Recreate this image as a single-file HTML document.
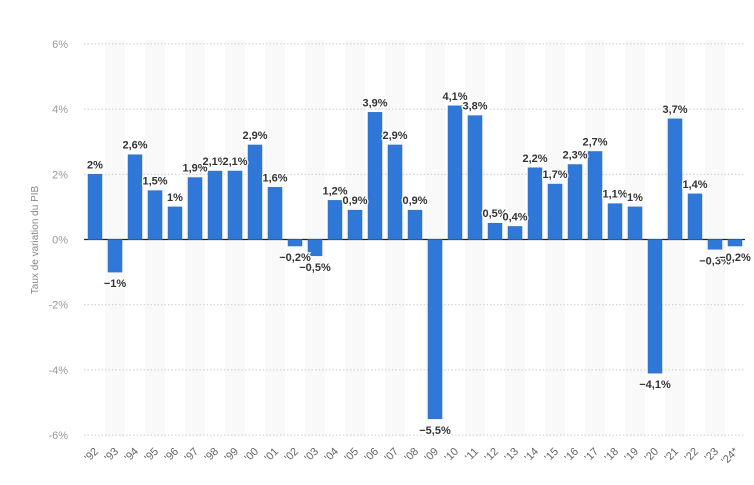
<!DOCTYPE html>
<html><head><meta charset="utf-8"><style>
body{margin:0;background:#fff;}
svg{display:block;font-family:"Liberation Sans",sans-serif;}
</style></head><body>
<svg id="chart" width="754" height="485" viewBox="0 0 754 485">
<g id="stripes"></g><g id="grid"></g><g id="bars"></g><g id="labels"></g><g id="xt"></g>
<text transform="translate(38,240) rotate(-90)" text-anchor="middle" font-size="10" fill="#888">Taux de variation du PIB</text>
</svg>
<script>
const categories=["'92","'93","'94","'95","'96","'97","'98","'99","'00","'01","'02","'03","'04","'05","'06","'07","'08","'09","'10","'11","'12","'13","'14","'15","'16","'17","'18","'19","'20","'21","'22","'23","'24*"];
const values=[2,-1,2.6,1.5,1,1.9,2.1,2.1,2.9,1.6,-0.2,-0.5,1.2,0.9,3.9,2.9,0.9,-5.5,4.1,3.8,0.5,0.4,2.2,1.7,2.3,2.7,1.1,1,-4.1,3.7,1.4,-0.3,-0.2];
const yTicks=[6,4,2,0,-2,-4,-6];
const NS="http://www.w3.org/2000/svg";
const y=v=>239.5-v*32.6;
const x=i=>95+i*20;
function mk(tag,attrs,parent,txt){const e=document.createElementNS(NS,tag);for(const k in attrs)e.setAttribute(k,attrs[k]);if(txt!==undefined)e.textContent=txt;document.getElementById(parent).appendChild(e);return e;}
const fmt=v=>(v<0?"\u2212":"")+String(Math.abs(v)).replace(".",",")+"%";
categories.forEach((c,i)=>{
  if(i%2===1){const s=mk("rect",{x:x(i)-10,y:40,width:20,height:396,fill:"#f9f9f9"},"stripes");
  
  }
});
yTicks.forEach(t=>{
  const l=mk("line",{x1:84,x2:745,y1:y(t),y2:y(t),stroke:t===0?"#222":"#ccc","stroke-width":t===0?1.3:1,"stroke-dasharray":t===0?"":"1.5,2"},"grid");
  
  
  const tx=mk("text",{x:68,y:y(t)+4,"text-anchor":"end","font-size":"11",fill:"#999"},"grid",t+"%");
  
  
});
values.forEach((v,i)=>{
  const top=Math.min(y(v),y(0)),h=Math.abs(y(v)-y(0));
  const b=mk("rect",{x:x(i)-7,y:top,width:14,height:h,fill:"#2f78d8",stroke:"#2a6cc4","stroke-width":"0.5"},"bars");
  
  
  const ly=v>=0?y(v)-6:y(v)+15;
  const t=mk("text",{x:x(i),y:ly,"text-anchor":"middle","font-size":"11",fill:"#333","font-weight":"600",stroke:"#fff","stroke-width":"2.5","paint-order":"stroke"},"labels",fmt(v));
  
  
  const xl=mk("text",{transform:"translate("+(x(i)+4)+",452) rotate(-45)","text-anchor":"end","font-size":"11",fill:"#666"},"xt",categories[i]);
  
  
});
</script>
</body></html>
